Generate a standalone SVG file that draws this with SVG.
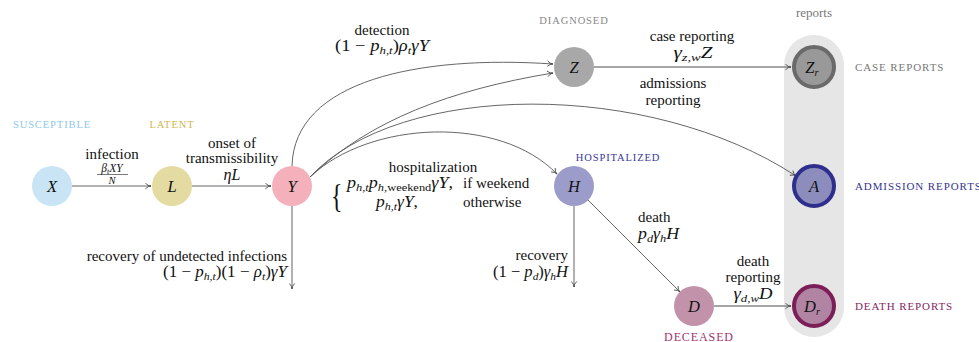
<svg xmlns="http://www.w3.org/2000/svg" width="979" height="342" viewBox="0 0 979 342" font-family="'Liberation Serif', 'DejaVu Serif', serif">
<defs>
<marker id="arr" viewBox="0 0 10 10" refX="9" refY="5" markerWidth="7" markerHeight="7" orient="auto" markerUnits="userSpaceOnUse">
<path d="M1,1 Q5,5 9,5 Q5,5 1,9" fill="none" stroke="#444" stroke-width="1.2"/>
</marker>
</defs>
<style>
text{font-family:'Liberation Serif','DejaVu Serif',serif;fill:#111;}
.lbl{font-size:15px;text-anchor:middle;}
.mt{font-size:16px;}
.r{text-anchor:end;}
.l{text-anchor:start;}
.m{font-style:italic;}
.sc{letter-spacing:0.9px;}
.node{font-size:16.5px;font-style:italic;text-anchor:middle;}
.e{fill:none;stroke:#555;stroke-width:0.9;marker-end:url(#arr);}
.eg{fill:none;stroke:#888;stroke-width:1.3;marker-end:url(#arr);}
</style>
<rect x="784" y="35" width="60" height="302" rx="30" fill="#e6e6e6"/>
<text x="814" y="17" class="lbl" style="fill:#777;font-size:13px">reports</text>

<g id="connectors">
<line class="e" x1="72" y1="186" x2="151" y2="186"/>
<line class="e" x1="192" y1="186" x2="271" y2="186"/>
<path class="e" d="M292,166 C294,80 420,55 553,64"/>
<path class="e" d="M310,177 C370,120 450,90 553,73"/>
<path class="e" d="M310,177 C400,80 650,80 796,176"/>
<path class="e" d="M310,177 C370,120 500,115 557,174"/>
<line class="eg" x1="292" y1="206" x2="292" y2="289"/>
<line class="eg" x1="594" y1="67" x2="791" y2="67"/>
<line class="eg" x1="574" y1="206" x2="574" y2="287"/>
<line class="e" x1="588" y1="200" x2="680" y2="292"/>
<line class="eg" x1="714" y1="306" x2="791" y2="306"/>
</g>

<g id="X"><circle cx="52" cy="186" r="20" fill="#c8e4f5"/><text x="52" y="192" class="node">X</text>
<text x="52" y="128" class="lbl sc" style="fill:#8cc8ec;font-size:10.5px">SUSCEPTIBLE</text></g>
<g id="L"><circle cx="172" cy="186" r="20" fill="#e4dba2"/><text x="172" y="192" class="node">L</text>
<text x="172" y="128" class="lbl sc" style="fill:#d2b84e;font-size:10.5px">LATENT</text></g>
<g id="Y"><circle cx="292" cy="186" r="20" fill="#f4b1bc"/><text x="292" y="192" class="node">Y</text></g>
<g id="Z"><circle cx="574" cy="67" r="20" fill="#a8a8a8"/><text x="574" y="73" class="node">Z</text>
<text x="574" y="24" class="lbl sc" style="fill:#888;font-size:10.5px">DIAGNOSED</text></g>
<g id="H"><circle cx="574" cy="186" r="20" fill="#9c9cca"/><text x="574" y="192" class="node">H</text>
<text x="618" y="161" class="lbl sc" style="fill:#3636a0;font-size:10.5px">HOSPITALIZED</text></g>
<g id="D"><circle cx="694" cy="306" r="20" fill="#c292ab"/><text x="694" y="312" class="node">D</text>
<text x="699" y="341" class="lbl sc" style="fill:#a03570;font-size:12px">DECEASED</text></g>
<g id="Zr"><circle cx="814" cy="67" r="20" fill="#999" stroke="#6a6a6a" stroke-width="4"/><text x="812" y="73" class="node">Z<tspan font-size="10.5" dy="3">r</tspan></text>
<text x="855" y="71" class="l sc" style="fill:#777;font-size:11px">CASE REPORTS</text></g>
<g id="A"><circle cx="814" cy="186" r="20" fill="#8c8cbd" stroke="#2e2e8c" stroke-width="4"/><text x="814" y="192" class="node">A</text>
<text x="855" y="190" class="l sc" style="fill:#34348e;font-size:11px">ADMISSION REPORTS</text></g>
<g id="Dr"><circle cx="814" cy="306" r="20" fill="#b084a2" stroke="#7c1f58" stroke-width="4"/><text x="812" y="312" class="node">D<tspan font-size="10.5" dy="3">r</tspan></text>
<text x="855" y="310" class="l sc" style="fill:#86255f;font-size:11px">DEATH REPORTS</text></g>

<g id="labels">
<text x="112" y="159" class="lbl">infection</text>
<text x="112" y="171.5" class="lbl m" style="font-size:11.5px"><tspan>β</tspan><tspan font-size="8" dy="2">t</tspan><tspan dy="-2">XY</tspan></text>
<line x1="97" y1="174.5" x2="128" y2="174.5" stroke="#222" stroke-width="0.6"/>
<text x="112" y="183.5" class="lbl m" style="font-size:10.5px">N</text>

<text x="232" y="148" class="lbl">onset of</text>
<text x="232" y="163" class="lbl">transmissibility</text>
<text x="232" y="180" class="lbl mt"><tspan class="m">ηL</tspan></text>

<text x="382" y="35" class="lbl">detection</text>
<text x="382" y="51" class="lbl mt" textLength="94" lengthAdjust="spacingAndGlyphs">(1 − <tspan class="m">p</tspan><tspan class="m" font-size="11" dy="3">h,t</tspan><tspan dy="-3">)</tspan><tspan class="m">ρ</tspan><tspan class="m" font-size="11" dy="3">t</tspan><tspan class="m" dy="-3">γY</tspan></text>

<text x="692" y="41" class="lbl">case reporting</text>
<text x="693" y="58" class="lbl mt" textLength="39" lengthAdjust="spacingAndGlyphs"><tspan class="m">γ</tspan><tspan class="m" font-size="11" dy="3">z,w</tspan><tspan class="m" dy="-3">Z</tspan></text>
<text x="673" y="88" class="lbl">admissions</text>
<text x="673" y="105" class="lbl">reporting</text>

<text x="433" y="172" class="lbl">hospitalization</text>
<text x="331" y="207" style="font-size:34px" transform="translate(331 0) scale(0.7 1) translate(-331 0)">{</text>
<text x="347" y="188" class="l mt" textLength="106" lengthAdjust="spacingAndGlyphs"><tspan class="m">p</tspan><tspan class="m" font-size="11" dy="3">h,t</tspan><tspan class="m" dy="-3">p</tspan><tspan class="m" font-size="11" dy="3">h,</tspan><tspan font-size="11">weekend</tspan><tspan class="m" dy="-3">γY</tspan>,</text>
<text x="463" y="188" class="l" style="font-size:15px">if weekend</text>
<text x="376" y="207" class="l mt" textLength="42" lengthAdjust="spacingAndGlyphs"><tspan class="m">p</tspan><tspan class="m" font-size="11" dy="3">h,t</tspan><tspan class="m" dy="-3">γY</tspan>,</text>
<text x="463" y="207" class="l" style="font-size:15px">otherwise</text>

<text x="287" y="261" class="lbl r">recovery of undetected infections</text>
<text x="287" y="277" class="lbl r mt" textLength="124" lengthAdjust="spacingAndGlyphs">(1 − <tspan class="m">p</tspan><tspan class="m" font-size="11" dy="3">h,t</tspan><tspan dy="-3">)(1 − </tspan><tspan class="m">ρ</tspan><tspan class="m" font-size="11" dy="3">t</tspan><tspan dy="-3">)</tspan><tspan class="m">γY</tspan></text>

<text x="568" y="260" class="lbl r">recovery</text>
<text x="568" y="277" class="lbl r mt" textLength="75" lengthAdjust="spacingAndGlyphs">(1 − <tspan class="m">p</tspan><tspan class="m" font-size="11" dy="3">d</tspan><tspan dy="-3">)</tspan><tspan class="m">γ</tspan><tspan class="m" font-size="11" dy="3">h</tspan><tspan class="m" dy="-3">H</tspan></text>

<text x="638" y="222" class="lbl l">death</text>
<text x="638" y="239" class="lbl l mt" textLength="41" lengthAdjust="spacingAndGlyphs"><tspan class="m">p</tspan><tspan class="m" font-size="11" dy="3">d</tspan><tspan class="m" dy="-3">γ</tspan><tspan class="m" font-size="11" dy="3">h</tspan><tspan class="m" dy="-3">H</tspan></text>

<text x="753" y="266" class="lbl">death</text>
<text x="753" y="282" class="lbl">reporting</text>
<text x="753" y="299" class="lbl mt" textLength="39" lengthAdjust="spacingAndGlyphs"><tspan class="m">γ</tspan><tspan class="m" font-size="11" dy="3">d,w</tspan><tspan class="m" dy="-3">D</tspan></text>
</g>
</svg>
